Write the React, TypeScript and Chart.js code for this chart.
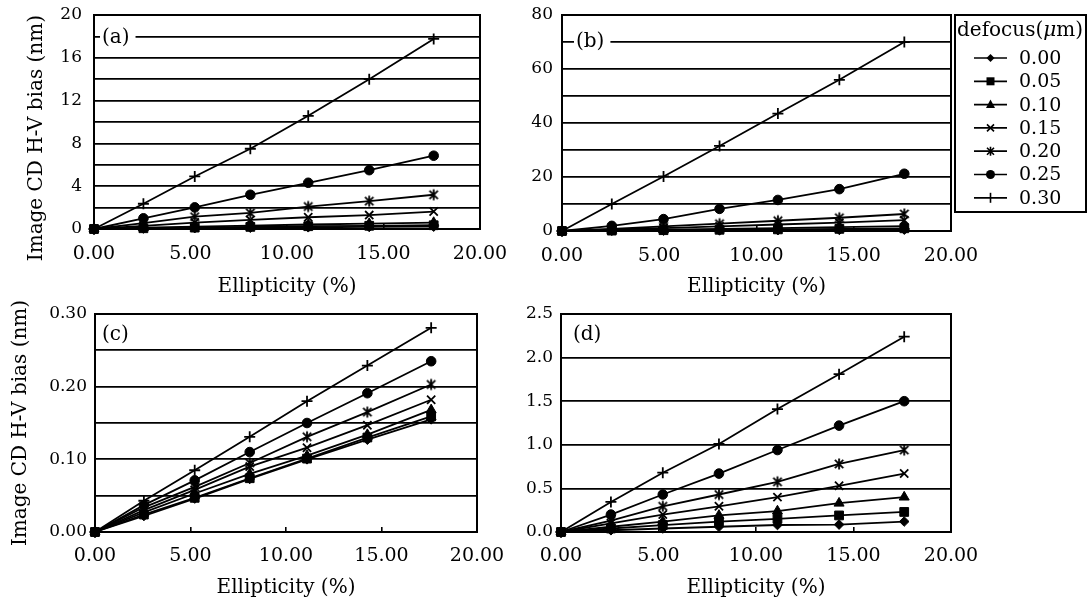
import React, { useEffect, useRef } from 'react';
import { Chart, registerables } from 'chart.js';

Chart.register(...registerables);

const FONT = "'DejaVu Serif', 'Liberation Serif', serif";

// ---- data ----
const ellipticity = [0, 2.56, 5.22, 8.1, 11.1, 14.26, 17.6];
const defocus = ['0.00', '0.05', '0.10', '0.15', '0.20', '0.25', '0.30'];

// panel (a)
const a000 = [0, 0.04, 0.08, 0.12, 0.16, 0.19, 0.22];
const a005 = [0, 0.07, 0.13, 0.2, 0.26, 0.3, 0.35];
const a010 = [0, 0.12, 0.22, 0.32, 0.42, 0.5, 0.6];
const a015 = [0, 0.3, 0.6, 0.85, 1.1, 1.3, 1.63];
const a020 = [0, 0.55, 1.15, 1.5, 2.1, 2.6, 3.2];
const a025 = [0, 1.0, 2.02, 3.2, 4.32, 5.5, 6.85];
const a030 = [0, 2.36, 4.91, 7.5, 10.58, 14.0, 17.76];

// panel (b)
const b000 = [0, 0.08, 0.15, 0.22, 0.3, 0.4, 0.5];
const b005 = [0, 0.15, 0.3, 0.45, 0.6, 0.8, 1.0];
const b010 = [0, 0.25, 0.5, 0.75, 1.05, 1.4, 1.8];
const b015 = [0, 0.55, 1.1, 1.7, 2.4, 3.1, 4.0];
const b020 = [0, 0.8, 1.7, 2.7, 3.8, 4.9, 6.3];
const b025 = [0, 1.9, 4.4, 8.2, 11.5, 15.5, 21.2];
const b030 = [0, 10, 20.2, 31.5, 43.5, 56, 70];

// panel (c)
const c000 = [0, 0.022, 0.046, 0.073, 0.1, 0.127, 0.155];
const c005 = [0, 0.024, 0.047, 0.074, 0.101, 0.13, 0.159];
const c010 = [0, 0.027, 0.053, 0.08, 0.105, 0.134, 0.168];
const c015 = [0, 0.03, 0.058, 0.09, 0.116, 0.147, 0.182];
const c020 = [0, 0.034, 0.062, 0.095, 0.131, 0.165, 0.203];
const c025 = [0, 0.037, 0.071, 0.11, 0.15, 0.191, 0.235];
const c030 = [0, 0.043, 0.085, 0.131, 0.18, 0.229, 0.281];

// panel (d)
const d000 = [0, 0.02, 0.04, 0.06, 0.08, 0.085, 0.12];
const d005 = [0, 0.04, 0.08, 0.12, 0.15, 0.19, 0.23];
const d010 = [0, 0.06, 0.12, 0.19, 0.24, 0.33, 0.4];
const d015 = [0, 0.1, 0.2, 0.295, 0.4, 0.53, 0.67];
const d020 = [0, 0.13, 0.295, 0.43, 0.575, 0.78, 0.94];
const d025 = [0, 0.2, 0.43, 0.67, 0.94, 1.22, 1.5];
const d030 = [0, 0.345, 0.68, 1.01, 1.41, 1.81, 2.24];

const xTitle = 'Ellipticity (%)';
const yTitle = 'Image CD H-V bias (nm)';

type Spec = {
  label: string;
  left: number; top: number; w: number; h: number;
  padT: number; padR: number; yAxisW: number; xAxisH: number;
  yMax: number; yStep: number; labelEvery: number; decimals: number;
  series: number[][];
  showYTitle: boolean; yTitlePad: number; yTitleAlign: string; yTickPad: number;
  xTickPad: number; xTitlePad: number;
  labelDx: number; labelDy: number;
  legend: boolean;
};

const PANELS: Spec[] = [
  {
    label: '(a)', left: 0, top: 0, w: 520, h: 300,
    padT: 15, padR: 40, yAxisW: 94, xAxisH: 71,
    yMax: 20, yStep: 2, labelEvery: 4, decimals: 0,
    series: [a000, a005, a010, a015, a020, a025, a030],
    showYTitle: true, yTitlePad: 25, yTitleAlign: 'end', yTickPad: 12, xTickPad: 19, xTitlePad: 1,
    labelDx: 8, labelDy: 23, legend: false,
  },
  {
    label: '(b)', left: 520, top: 0, w: 567, h: 300,
    padT: 15, padR: 136, yAxisW: 42, xAxisH: 69,
    yMax: 80, yStep: 10, labelEvery: 20, decimals: 0,
    series: [b000, b005, b010, b015, b020, b025, b030],
    showYTitle: false, yTitlePad: 0, yTitleAlign: 'center', yTickPad: 9, xTickPad: 19, xTitlePad: 1,
    labelDx: 14, labelDy: 27, legend: true,
  },
  {
    label: '(c)', left: 0, top: 300, w: 520, h: 303,
    padT: 14, padR: 43, yAxisW: 95, xAxisH: 71,
    yMax: 0.3, yStep: 0.05, labelEvery: 0.1, decimals: 2,
    series: [c000, c005, c010, c015, c020, c025, c030],
    showYTitle: true, yTitlePad: 9, yTitleAlign: 'center', yTickPad: 8, xTickPad: 18, xTitlePad: 3,
    labelDx: 7, labelDy: 21, legend: false,
  },
  {
    label: '(d)', left: 520, top: 300, w: 567, h: 303,
    padT: 14, padR: 136, yAxisW: 41, xAxisH: 71,
    yMax: 2.5, yStep: 0.5, labelEvery: 0.5, decimals: 1,
    series: [d000, d005, d010, d015, d020, d025, d030],
    showYTitle: false, yTitlePad: 0, yTitleAlign: 'center', yTickPad: 8, xTickPad: 18, xTitlePad: 3,
    labelDx: 12, labelDy: 21, legend: false,
  },
];

const legendMarkers = ['diamond', 'square', 'triangle', 'x', 'asterisk', 'circle', 'plus'];
const chartStyles = ['rectRot', 'rect', 'triangle', 'crossRot', 'asterisk', 'circle', 'cross'];
const chartRadii = [4.8, 6.2, 5.8, 5.8, 5, 4.8, 5.5];

function makeAsterisk(): HTMLCanvasElement {
  const c = document.createElement('canvas');
  c.width = 14; c.height = 14;
  const g = c.getContext('2d')!;
  g.strokeStyle = '#000';
  g.lineWidth = 1.8;
  g.lineCap = 'butt';
  const m = 7, d = 4.2;
  g.beginPath();
  g.moveTo(m - d, m - d); g.lineTo(m + d, m + d);
  g.moveTo(m + d, m - d); g.lineTo(m - d, m + d);
  g.moveTo(m, m - 5.5); g.lineTo(m, m + 5.5);
  g.stroke();
  return c;
}

function drawMarker(ctx: CanvasRenderingContext2D, kind: string, x: number, y: number) {
  ctx.save();
  ctx.fillStyle = '#000';
  ctx.strokeStyle = '#000';
  ctx.lineWidth = 1.6;
  ctx.beginPath();
  switch (kind) {
    case 'diamond':
      ctx.moveTo(x, y - 4); ctx.lineTo(x + 4, y); ctx.lineTo(x, y + 4); ctx.lineTo(x - 4, y);
      ctx.closePath(); ctx.fill();
      break;
    case 'square':
      ctx.fillRect(x - 4, y - 4, 8, 8);
      break;
    case 'triangle':
      ctx.moveTo(x, y - 5); ctx.lineTo(x + 4.5, y + 3.5); ctx.lineTo(x - 4.5, y + 3.5);
      ctx.closePath(); ctx.fill();
      break;
    case 'x':
      ctx.moveTo(x - 3.5, y - 3.5); ctx.lineTo(x + 3.5, y + 3.5);
      ctx.moveTo(x + 3.5, y - 3.5); ctx.lineTo(x - 3.5, y + 3.5);
      ctx.stroke();
      break;
    case 'asterisk':
      ctx.moveTo(x - 3.5, y - 3.5); ctx.lineTo(x + 3.5, y + 3.5);
      ctx.moveTo(x + 3.5, y - 3.5); ctx.lineTo(x - 3.5, y + 3.5);
      ctx.moveTo(x, y - 4.5); ctx.lineTo(x, y + 4.5);
      ctx.stroke();
      break;
    case 'circle':
      ctx.arc(x, y, 4.5, 0, Math.PI * 2); ctx.fill();
      break;
    case 'plus':
      ctx.moveTo(x, y - 5); ctx.lineTo(x, y + 5);
      ctx.stroke();
      break;
  }
  ctx.restore();
}

const framePlugin = {
  id: 'frame',
  afterDraw(chart: any) {
    const { left, top, right, bottom } = chart.chartArea;
    const ctx = chart.ctx;
    ctx.save();
    ctx.strokeStyle = '#000';
    ctx.lineWidth = 2;
    ctx.strokeRect(left, top, right - left, bottom - top);
    ctx.restore();
  },
};

function labelPlugin(spec: Spec) {
  return {
    id: 'panelLabel',
    afterDatasetsDraw(chart: any) {
      const { left, top } = chart.chartArea;
      const ctx = chart.ctx as CanvasRenderingContext2D;
      ctx.save();
      ctx.font = `20px ${FONT}`;
      const tw = ctx.measureText(spec.label).width;
      const x = left + spec.labelDx;
      const y = top + spec.labelDy;
      ctx.fillStyle = '#fff';
      ctx.fillRect(x - 2, y - 11, tw + 8, 22);
      ctx.fillStyle = '#000';
      ctx.textBaseline = 'middle';
      ctx.textAlign = 'left';
      ctx.fillText(spec.label, x, y);
      ctx.restore();
    },
  };
}

const legendPlugin = {
  id: 'defocusLegend',
  afterDraw(chart: any) {
    const ctx = chart.ctx as CanvasRenderingContext2D;
    const bx = chart.chartArea.right + 4;
    const by = 15;
    const bw = chart.width - bx - 1;
    const bh = 197;
    ctx.save();
    ctx.fillStyle = '#fff';
    ctx.fillRect(bx, by, bw, bh);
    ctx.strokeStyle = '#000';
    ctx.lineWidth = 2;
    ctx.strokeRect(bx, by, bw, bh);
    // title
    ctx.fillStyle = '#000';
    ctx.textBaseline = 'middle';
    ctx.textAlign = 'left';
    const ty = by + 16;
    let tx = bx + 2;
    ctx.font = `20px ${FONT}`;
    ctx.fillText('defocus(', tx, ty);
    tx += ctx.measureText('defocus(').width;
    ctx.font = `italic 20px ${FONT}`;
    ctx.fillText('\u03bc', tx, ty);
    tx += ctx.measureText('\u03bc').width;
    ctx.font = `20px ${FONT}`;
    ctx.fillText('m)', tx, ty);
    // entries
    defocus.forEach((lab, i) => {
      const y = by + 43 + i * 23.3;
      ctx.strokeStyle = '#000';
      ctx.lineWidth = 1.7;
      ctx.beginPath();
      ctx.moveTo(bx + 19, y);
      ctx.lineTo(bx + 52, y);
      ctx.stroke();
      drawMarker(ctx, legendMarkers[i], bx + 35.5, y);
      ctx.fillStyle = '#000';
      ctx.font = `19px ${FONT}`;
      ctx.textBaseline = 'middle';
      ctx.fillText(lab, bx + 64, y + 1);
    });
    ctx.restore();
  },
};

function buildConfig(spec: Spec, asterisk: HTMLCanvasElement): any {
  const datasets = defocus.map((lab, i) => ({
    label: lab,
    data: ellipticity.map((x, j) => ({ x, y: spec.series[i][j] })),
    showLine: true,
    clip: false,
    borderColor: '#000',
    backgroundColor: '#000',
    borderWidth: 1.8,
    pointStyle: chartStyles[i] === 'asterisk' ? asterisk : chartStyles[i],
    pointRadius: chartRadii[i],
    pointBorderWidth: i === 3 || i === 6 ? 1.8 : 1,
    pointBackgroundColor: '#000',
    pointBorderColor: '#000',
  }));
  const tickCb = (v: any) => {
    const n = Number(v);
    const k = n / spec.labelEvery;
    if (Math.abs(k - Math.round(k)) > 1e-6) return '';
    return n.toFixed(spec.decimals);
  };
  return {
    type: 'scatter',
    data: { datasets },
    options: {
      responsive: false,
      animation: false,
      devicePixelRatio: 1,
      events: [],
      layout: { padding: { left: 0, top: spec.padT, right: spec.padR, bottom: 0 } },
      plugins: { legend: { display: false }, tooltip: { enabled: false } },
      scales: {
        x: {
          type: 'linear',
          min: 0,
          max: 20,
          ticks: {
            stepSize: 5,
            autoSkip: false,
            maxRotation: 0,
            padding: spec.xTickPad,
            color: '#000',
            font: { family: FONT, size: 19 },
            callback: (v: any) => Number(v).toFixed(2),
          },
          grid: { drawOnChartArea: false, drawTicks: true, tickLength: -5, color: '#000', lineWidth: 1.6 },
          border: { display: true, color: '#000', width: 2 },
          title: {
            display: true,
            text: xTitle,
            color: '#000',
            font: { family: FONT, size: 20 },
            padding: { top: 0, bottom: spec.xTitlePad },
          },
          afterFit: (s: any) => {
            s.height = spec.xAxisH;
            s.paddingLeft = 0;
            s.paddingRight = 0;
          },
        },
        y: {
          type: 'linear',
          min: 0,
          max: spec.yMax,
          ticks: {
            stepSize: spec.yStep,
            autoSkip: false,
            padding: spec.yTickPad,
            color: '#000',
            font: { family: FONT, size: 17 },
            callback: tickCb,
          },
          grid: { drawTicks: false, color: '#000', lineWidth: 1.7 },
          border: { display: true, color: '#000', width: 2 },
          title: {
            display: spec.showYTitle,
            text: yTitle,
            align: spec.yTitleAlign,
            color: '#000',
            font: { family: FONT, size: 20 },
            padding: { top: spec.yTitlePad, bottom: 0 },
          },
          afterFit: (s: any) => {
            s.width = spec.yAxisW;
            s.paddingTop = 0;
            s.paddingBottom = 0;
          },
        },
      },
    },
    plugins: [framePlugin, labelPlugin(spec), ...(spec.legend ? [legendPlugin] : [])],
  };
}

function Panel({ spec }: { spec: Spec }) {
  const ref = useRef<HTMLCanvasElement>(null);
  useEffect(() => {
    const asterisk = makeAsterisk();
    const chart = new Chart(ref.current!, buildConfig(spec, asterisk));
    return () => chart.destroy();
  }, [spec]);
  return (
    <canvas
      ref={ref}
      width={spec.w}
      height={spec.h}
      style={{ position: 'absolute', left: spec.left, top: spec.top, width: spec.w, height: spec.h }}
    />
  );
}

export default function App() {
  return (
    <div style={{ position: 'fixed', left: 0, top: 0, width: 1087, height: 603, background: '#fff', overflow: 'hidden' }}>
      {PANELS.map((p) => (
        <Panel key={p.label} spec={p} />
      ))}
    </div>
  );
}
